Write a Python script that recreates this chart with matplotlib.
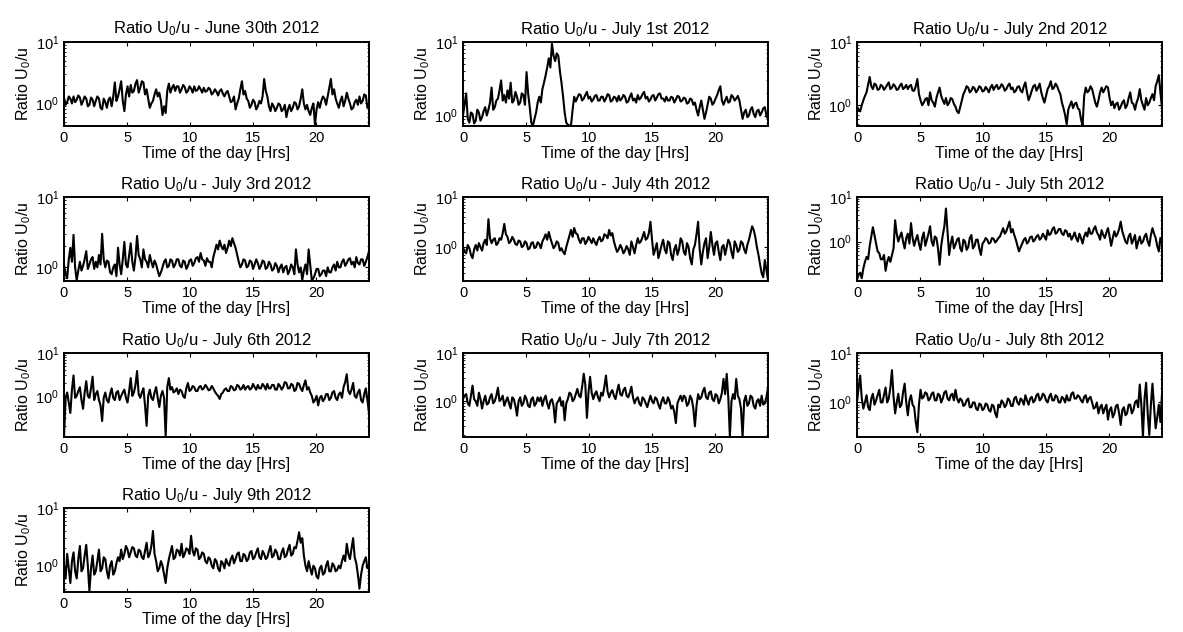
import numpy as np
import matplotlib
matplotlib.use("Agg")
import matplotlib.pyplot as plt

plt.rcParams['font.family'] = ['Liberation Sans', 'DejaVu Sans']
plt.rcParams['mathtext.fontset'] = 'custom'
plt.rcParams['mathtext.rm'] = 'Liberation Sans'
plt.rcParams['mathtext.it'] = 'Liberation Sans'

# U0/u ratio, one sample every 7.5 minutes over each day
days = ['June 30th 2012', 'July 1st 2012', 'July 2nd 2012', 'July 3rd 2012',
        'July 4th 2012', 'July 5th 2012', 'July 6th 2012', 'July 7th 2012',
        'July 8th 2012', 'July 9th 2012']

ratio_jun30 = [
    1.25, 0.95, 1.05, 1.3, 1.2, 1.0, 1.3, 1.05, 1.15, 1.35, 1.25, 0.95, 1.1, 1.3, 1.2, 0.9,
    0.95, 1.25, 1.15, 0.9, 1.1, 1.3, 1.2, 0.85, 0.8, 1.2, 1.05, 0.85, 1.15, 1.25, 0.9, 1.3,
    2.2, 1.1, 1.3, 1.7, 2.3, 1.1, 0.75, 1.4, 1.9, 1.3, 2.0, 1.5, 1.6, 2.1, 2.4, 1.5,
    1.8, 2.3, 2.2, 1.4, 1.7, 1.2, 0.85, 1.0, 1.1, 1.4, 1.7, 1.3, 1.5, 1.1, 0.65, 0.9,
    0.7, 1.6, 2.1, 1.5, 1.8, 2.0, 1.6, 1.9, 1.9, 1.5, 1.7, 2.0, 1.85, 1.5, 1.6, 1.9,
    1.75, 1.5, 1.9, 1.6, 1.65, 1.9, 1.7, 1.5, 1.8, 1.55, 1.6, 1.8, 1.7, 1.4, 1.5, 1.7,
    1.55, 1.35, 1.6, 1.7, 1.45, 1.3, 1.5, 1.6, 1.3, 1.05, 1.1, 1.3, 0.8, 1.0, 1.2, 1.7,
    2.3, 1.4, 1.6, 1.2, 1.1, 0.85, 0.95, 1.15, 1.05, 0.8, 0.9, 1.1, 1.0, 1.3, 2.5, 1.6,
    1.3, 0.9, 0.75, 1.0, 0.9, 0.75, 0.85, 1.0, 0.95, 0.75, 0.8, 0.95, 0.6, 0.8, 0.95, 0.75,
    0.85, 1.05, 1.0, 0.8, 0.9, 1.2, 1.7, 1.0, 0.8, 0.95, 0.75, 0.65, 0.85, 1.0, 0.45, 0.8,
    1.05, 0.85, 1.1, 1.3, 1.2, 0.95, 1.3, 1.8, 2.5, 1.4, 1.7, 1.2, 1.0, 0.85, 1.1, 1.3,
    0.9, 1.1, 1.5, 1.2, 1.0, 0.8, 0.85, 1.05, 1.15, 0.95, 1.3, 1.0, 1.1, 1.4, 1.35, 0.85,
    1.0]
ratio_jul01 = [
    1.0, 1.4, 2.0, 0.9, 0.8, 1.1, 1.05, 0.78, 0.85, 1.2, 1.1, 0.85, 0.95, 1.15, 1.3, 1.0,
    1.2, 1.5, 2.4, 1.2, 1.3, 1.6, 1.7, 2.2, 3.0, 1.6, 1.9, 1.5, 2.2, 1.7, 2.8, 1.5,
    1.6, 2.1, 1.8, 1.4, 1.5, 2.0, 1.9, 1.4, 3.9, 2.0, 1.3, 0.8, 0.72, 0.9, 1.1, 1.5,
    1.8, 1.5, 2.3, 2.8, 3.5, 4.5, 6.0, 4.5, 9.5, 6.5, 5.5, 7.0, 6.5, 4.0, 2.8, 1.8,
    1.1, 0.8, 0.75, 0.73, 0.74, 1.2, 1.8, 1.55, 1.75, 1.95, 1.9, 1.6, 1.7, 1.9, 2.1, 1.7,
    1.8, 1.55, 1.65, 1.85, 1.9, 1.6, 1.6, 1.8, 1.8, 1.55, 1.7, 1.95, 1.9, 1.55, 1.6, 1.8,
    1.75, 1.55, 1.85, 1.6, 1.7, 1.9, 1.8, 1.5, 1.55, 1.8, 2.0, 1.6, 1.7, 1.5, 1.9, 1.65,
    1.75, 1.95, 2.1, 1.7, 1.8, 1.55, 1.65, 1.85, 1.9, 1.6, 1.75, 1.95, 2.0, 1.7, 1.7, 1.55,
    1.8, 1.6, 1.6, 1.8, 1.75, 1.5, 1.65, 1.85, 1.8, 1.55, 1.6, 1.75, 1.7, 1.45, 1.5, 1.7,
    1.65, 1.4, 1.5, 1.2, 1.0, 1.3, 1.6, 1.2, 0.9, 1.1, 1.4, 1.8, 1.7, 1.4, 1.5, 1.7,
    1.9, 2.2, 2.5, 1.6, 1.4, 1.6, 1.8, 1.5, 1.55, 1.9, 1.8, 1.6, 1.7, 1.85, 1.6, 1.2,
    0.9, 1.1, 1.2, 0.95, 1.0, 1.2, 1.3, 1.05, 0.95, 1.15, 1.2, 1.0, 1.1, 1.25, 1.3, 1.0,
    0.9]
ratio_jul02 = [
    0.95, 0.85, 0.8, 1.0, 1.2, 1.4, 1.6, 2.1, 2.8, 2.0, 1.8, 2.2, 2.1, 1.75, 1.8, 2.1,
    2.0, 1.75, 1.9, 2.1, 2.3, 1.8, 1.9, 2.15, 2.0, 1.75, 1.8, 2.05, 2.2, 1.8, 1.9, 2.1,
    1.8, 2.0, 2.1, 1.7, 1.7, 2.0, 2.6, 1.5, 1.2, 1.0, 1.1, 1.25, 1.3, 1.0, 1.6, 1.2,
    1.1, 0.95, 1.3, 1.6, 1.9, 1.4, 1.2, 1.05, 1.3, 1.0, 1.1, 1.3, 1.25, 1.05, 0.95, 0.8,
    0.75, 0.95, 1.2, 1.5, 1.7, 2.0, 1.9, 1.6, 1.7, 1.95, 1.85, 1.6, 1.75, 2.0, 1.9, 1.65,
    1.7, 1.95, 1.8, 1.6, 1.9, 2.1, 1.75, 1.95, 2.1, 1.8, 1.9, 2.15, 2.0, 1.7, 1.8, 2.05,
    2.2, 1.8, 1.9, 1.6, 1.7, 1.95, 2.0, 1.7, 1.6, 2.0, 2.3, 1.6, 1.2, 1.4, 1.7, 2.0,
    2.1, 1.7, 1.9, 2.2, 1.6, 1.3, 1.1, 1.4, 1.8, 2.0, 2.4, 1.8, 1.9, 2.2, 2.0, 1.7,
    1.5, 1.1, 0.9, 0.7, 0.5, 0.85, 1.0, 1.15, 0.9, 1.05, 1.1, 0.9, 0.85, 0.6, 0.48, 1.4,
    1.9, 1.6, 1.7, 2.0, 1.8, 1.4, 1.1, 0.95, 1.2, 1.6, 1.9, 1.6, 1.8, 2.0, 1.9, 1.3,
    1.0, 1.15, 0.9, 1.05, 1.1, 0.85, 0.95, 1.1, 1.2, 0.9, 1.0, 1.3, 1.6, 1.1, 1.05, 0.85,
    1.1, 1.3, 1.8, 1.2, 1.0, 0.85, 1.3, 1.0, 1.1, 1.3, 1.5, 1.2, 2.0, 2.4, 3.0, 1.6,
    0.9]
ratio_jul03 = [
    1.1, 0.8, 0.7, 1.3, 1.9, 1.2, 2.9, 1.0, 0.65, 0.9, 1.2, 0.9, 1.05, 1.3, 1.7, 0.95,
    1.1, 1.3, 1.4, 0.95, 1.2, 1.0, 1.5, 1.1, 3.0, 1.3, 1.0, 1.25, 1.2, 0.85, 0.8, 1.0,
    1.1, 0.75, 1.9, 1.1, 0.8, 1.3, 2.3, 1.1, 1.0, 1.5, 2.2, 1.2, 0.9, 1.4, 2.8, 1.5,
    1.3, 1.0, 1.8, 1.3, 1.2, 1.0, 1.5, 1.2, 1.0, 1.25, 1.1, 0.9, 0.75, 0.85, 1.0, 1.2,
    1.3, 1.0, 1.05, 1.3, 1.25, 1.0, 1.1, 1.3, 1.3, 1.05, 1.0, 1.25, 1.2, 0.95, 1.05, 1.25,
    1.3, 1.05, 1.15, 1.35, 1.4, 1.2, 1.6, 1.3, 1.25, 1.05, 1.35, 1.2, 1.2, 1.0, 1.4, 1.7,
    2.1, 1.8, 2.4, 2.0, 1.8, 2.1, 1.6, 1.9, 2.4, 2.0, 2.6, 2.2, 1.9, 1.5, 1.2, 1.0,
    1.1, 1.3, 1.25, 1.0, 1.05, 1.25, 1.2, 0.95, 1.1, 1.3, 1.15, 0.95, 1.05, 1.25, 1.2, 0.95,
    1.0, 1.2, 1.1, 0.9, 0.95, 1.15, 1.05, 0.85, 1.0, 1.1, 0.85, 1.0, 1.05, 0.8, 0.9, 1.1,
    1.0, 0.8, 1.8, 1.1, 0.85, 1.0, 0.66, 0.9, 1.1, 0.8, 1.8, 1.1, 0.65, 0.7, 0.8, 0.95,
    0.95, 0.75, 0.8, 0.9, 0.9, 0.75, 1.0, 0.85, 0.85, 1.0, 1.1, 0.9, 1.2, 1.0, 1.0, 1.2,
    1.3, 1.05, 1.15, 1.3, 1.35, 1.1, 1.2, 1.0, 1.4, 1.15, 1.1, 1.3, 1.3, 1.05, 1.2, 1.4,
    1.7]
ratio_jul04 = [
    1.0, 0.8, 0.75, 1.1, 0.95, 0.7, 0.6, 0.9, 1.1, 0.85, 1.2, 1.0, 0.85, 1.2, 1.4, 1.1,
    3.6, 1.5, 1.2, 1.4, 1.5, 1.1, 1.2, 1.5, 1.4, 1.9, 2.9, 1.8, 1.6, 1.2, 1.3, 1.6,
    1.4, 1.15, 1.1, 1.35, 1.3, 1.0, 1.05, 1.3, 1.2, 0.9, 0.95, 1.2, 1.25, 0.95, 1.0, 1.25,
    1.15, 0.95, 1.3, 1.5, 1.8, 1.4, 2.0, 1.5, 1.2, 0.95, 1.05, 1.3, 1.2, 0.85, 0.95, 0.8,
    0.72, 1.0, 1.3, 1.7, 2.2, 1.6, 2.4, 1.9, 1.8, 1.4, 1.2, 1.5, 1.5, 1.15, 1.3, 1.6,
    1.4, 1.2, 1.5, 1.25, 1.1, 1.4, 1.6, 1.3, 1.4, 1.8, 1.7, 1.5, 2.2, 1.7, 1.9, 1.3,
    1.0, 0.8, 0.9, 1.1, 0.95, 0.75, 0.85, 1.05, 0.9, 0.7, 1.3, 1.0, 0.75, 1.1, 1.5, 1.2,
    1.3, 1.6, 2.0, 1.4, 1.5, 1.9, 3.2, 1.4, 0.7, 0.9, 1.2, 0.6, 0.8, 1.1, 1.4, 0.9,
    0.75, 1.3, 1.2, 0.7, 0.55, 0.9, 1.1, 0.7, 0.9, 1.5, 1.3, 0.8, 0.7, 1.2, 1.0, 0.6,
    0.45, 0.9, 1.1, 1.8, 3.2, 0.9, 0.45, 0.8, 1.2, 1.5, 0.6, 1.0, 2.0, 1.1, 0.7, 1.2,
    1.3, 0.8, 0.55, 1.0, 1.1, 0.7, 1.0, 1.4, 1.2, 0.8, 0.6, 1.3, 1.1, 0.8, 0.9, 1.3,
    1.2, 0.9, 0.75, 1.1, 1.4, 1.9, 2.6, 2.2, 1.6, 1.0, 0.7, 0.45, 0.3, 0.25, 0.55, 0.35,
    0.22]
ratio_jul05 = [
    0.14, 0.18, 0.2, 0.15, 0.25, 0.35, 0.45, 0.4, 0.8, 1.3, 2.1, 1.4, 0.9, 0.6, 0.55, 0.4,
    0.4, 0.5, 0.22, 0.35, 0.45, 0.35, 0.5, 0.7, 3.0, 1.5, 1.0, 1.3, 1.6, 1.0, 0.7, 1.2,
    1.5, 0.9, 2.6, 1.2, 0.8, 1.1, 1.4, 0.9, 0.65, 1.2, 1.6, 0.8, 1.1, 1.5, 2.2, 1.0,
    0.8, 1.3, 1.2, 0.7, 0.3, 0.8, 1.4, 2.2, 5.5, 1.6, 0.5, 0.9, 1.3, 0.7, 0.85, 1.1,
    1.2, 0.7, 0.6, 1.1, 1.0, 0.65, 0.75, 1.2, 1.4, 0.7, 0.8, 1.1, 1.1, 0.7, 0.5, 0.9,
    1.0, 1.2, 1.1, 0.9, 0.95, 1.2, 1.15, 0.95, 1.05, 1.2, 1.3, 1.6, 2.0, 1.5, 1.7, 2.2,
    2.8, 1.6, 1.9, 1.4, 1.1, 0.8, 0.6, 0.75, 0.9, 1.1, 1.2, 0.9, 1.0, 1.25, 1.3, 1.0,
    1.1, 1.3, 1.4, 1.1, 1.2, 1.5, 1.3, 1.1, 1.8, 1.4, 1.5, 1.9, 2.1, 1.5, 1.6, 1.9,
    1.9, 1.5, 1.4, 1.8, 1.7, 1.3, 1.5, 1.1, 1.3, 1.6, 1.2, 1.0, 1.5, 1.2, 0.9, 1.3,
    1.6, 1.3, 2.0, 1.5, 1.5, 1.9, 2.2, 1.6, 1.4, 1.1, 1.8, 1.4, 1.2, 1.6, 2.0, 1.3,
    0.8, 1.2, 1.7, 1.3, 1.5, 1.9, 2.8, 1.7, 1.3, 1.0, 0.9, 1.3, 1.5, 0.9, 1.1, 1.4,
    0.7, 1.0, 1.3, 0.9, 1.0, 1.3, 1.5, 1.0, 0.8, 1.4, 2.0, 1.5, 1.2, 0.8, 0.6, 1.2,
    1.1]
ratio_jul06 = [
    0.11, 0.9, 1.2, 0.7, 0.4, 1.4, 3.0, 0.9, 1.0, 1.3, 1.6, 0.8, 0.5, 1.2, 2.2, 1.0,
    0.9, 1.5, 2.8, 0.8, 1.1, 1.3, 0.8, 0.6, 0.26, 0.9, 1.2, 0.8, 0.7, 1.1, 1.5, 0.9,
    0.8, 1.2, 1.3, 0.8, 1.0, 1.2, 1.4, 0.9, 0.7, 1.3, 2.6, 1.0, 1.2, 1.8, 3.8, 1.1,
    0.9, 1.2, 1.5, 0.6, 0.2, 1.0, 1.4, 0.9, 0.8, 1.2, 1.6, 0.9, 0.55, 1.0, 1.3, 0.9,
    0.11, 1.6, 2.6, 1.4, 1.6, 1.2, 1.3, 1.5, 1.1, 1.4, 1.3, 1.0, 0.9, 1.5, 2.0, 1.3,
    1.4, 1.7, 1.6, 1.3, 1.3, 1.6, 1.7, 1.4, 1.5, 1.8, 1.6, 1.35, 1.4, 1.7, 1.5, 1.25,
    1.1, 1.0, 0.85, 1.1, 1.2, 1.4, 1.5, 1.3, 1.3, 1.7, 1.6, 1.35, 1.4, 1.8, 1.7, 1.4,
    1.5, 1.8, 1.4, 1.6, 1.7, 1.4, 1.5, 1.9, 1.6, 1.4, 1.8, 1.5, 1.5, 1.9, 1.7, 1.4,
    1.9, 1.5, 1.5, 1.8, 1.8, 1.4, 1.4, 1.9, 1.7, 1.4, 1.6, 2.1, 2.0, 1.5, 1.5, 1.9,
    1.8, 1.3, 1.4, 2.0, 1.9, 1.5, 1.3, 1.8, 2.3, 1.4, 1.6, 1.2, 1.0, 0.7, 0.8, 1.0,
    0.6, 0.9, 1.0, 0.75, 0.85, 1.1, 1.1, 0.8, 0.9, 1.2, 1.3, 0.9, 0.8, 1.1, 1.2, 0.9,
    1.6, 2.1, 3.2, 1.3, 1.1, 1.4, 2.0, 1.0, 0.9, 1.2, 1.4, 0.8, 0.7, 1.1, 1.5, 0.8,
    0.4]
ratio_jul07 = [
    1.1, 1.3, 1.4, 0.9, 0.8, 1.3, 2.1, 1.1, 1.0, 0.8, 1.5, 1.1, 0.7, 1.0, 1.3, 0.85,
    0.9, 1.2, 1.4, 0.9, 1.0, 1.3, 1.9, 1.0, 1.1, 1.3, 0.8, 1.0, 1.2, 0.9, 0.7, 1.2,
    1.1, 0.8, 0.5, 1.0, 1.2, 0.8, 0.9, 1.3, 1.1, 0.8, 0.75, 1.1, 1.2, 0.8, 0.9, 1.2,
    1.0, 1.2, 0.8, 1.1, 1.3, 0.9, 0.7, 1.0, 1.1, 0.8, 0.36, 0.9, 1.0, 1.2, 0.8, 1.0,
    0.4, 0.9, 1.1, 1.5, 1.4, 1.0, 1.1, 1.4, 1.8, 1.3, 1.2, 2.0, 3.7, 2.2, 0.45, 1.5,
    3.2, 1.5, 1.1, 1.4, 1.6, 1.2, 1.0, 1.5, 1.3, 2.0, 3.4, 1.6, 1.2, 1.5, 1.7, 1.3,
    1.1, 1.6, 2.2, 1.4, 1.3, 1.7, 1.9, 1.3, 1.2, 1.5, 2.0, 1.2, 0.9, 1.1, 1.2, 0.9,
    0.8, 1.2, 1.1, 0.9, 0.75, 1.0, 1.3, 1.0, 0.9, 1.2, 1.1, 0.85, 0.7, 1.0, 1.2, 0.9,
    0.9, 1.2, 1.0, 0.7, 0.8, 0.6, 0.35, 0.9, 1.1, 1.3, 1.0, 1.3, 1.2, 0.8, 0.9, 1.3,
    1.1, 0.7, 0.3, 0.8, 1.4, 1.1, 1.2, 1.6, 1.9, 1.2, 1.1, 1.5, 1.6, 1.1, 1.0, 1.4,
    1.3, 0.9, 1.1, 1.5, 2.9, 1.4, 3.7, 1.2, 0.18, 1.0, 1.4, 1.1, 2.9, 1.3, 1.1, 0.7,
    0.18, 1.0, 1.3, 0.8, 0.9, 1.3, 1.2, 0.8, 0.7, 1.0, 1.1, 0.8, 1.3, 0.85, 0.9, 1.2,
    1.9]
ratio_jul08 = [
    1.0, 2.0, 3.5, 1.2, 0.75, 1.0, 1.4, 0.8, 0.7, 1.2, 1.5, 0.9, 1.1, 1.4, 1.8, 1.0,
    1.0, 1.4, 2.0, 1.0, 1.2, 2.0, 4.5, 1.3, 0.6, 1.0, 1.5, 0.8, 0.9, 1.6, 2.4, 1.0,
    0.55, 1.1, 1.4, 0.9, 0.8, 0.4, 0.25, 0.9, 1.8, 1.2, 1.3, 1.6, 1.5, 1.1, 1.2, 1.5,
    1.6, 1.1, 1.1, 1.5, 1.4, 1.0, 1.2, 1.6, 1.7, 1.2, 1.1, 1.4, 1.5, 1.1, 1.8, 1.2,
    1.0, 1.2, 1.1, 0.85, 0.9, 1.1, 1.2, 0.8, 0.8, 1.0, 1.0, 0.75, 0.7, 0.95, 0.9, 0.7,
    0.75, 0.95, 0.9, 0.7, 0.65, 0.9, 0.85, 0.6, 0.5, 0.9, 0.8, 1.1, 1.0, 0.8, 0.9, 1.2,
    1.1, 0.85, 0.85, 1.2, 1.3, 1.0, 0.9, 1.2, 1.1, 0.9, 1.4, 1.1, 0.9, 1.2, 1.3, 1.0,
    1.1, 1.4, 1.5, 1.1, 1.2, 1.5, 1.4, 1.1, 1.0, 1.3, 1.5, 1.1, 1.1, 1.4, 1.3, 1.0,
    1.0, 1.3, 1.2, 1.0, 1.4, 1.1, 1.1, 1.5, 1.6, 1.2, 1.2, 1.4, 1.3, 1.1, 1.0, 1.3,
    1.4, 1.0, 1.2, 1.3, 1.0, 0.75, 0.8, 1.0, 0.6, 0.8, 0.9, 0.6, 0.75, 0.9, 0.45, 0.7,
    0.8, 0.5, 0.6, 0.85, 0.9, 0.6, 0.35, 0.7, 0.8, 0.55, 0.6, 0.9, 0.9, 0.6, 0.7, 1.0,
    1.1, 0.8, 2.3, 0.9, 0.2, 1.2, 2.5, 0.6, 0.22, 0.9, 2.4, 0.8, 0.3, 0.5, 0.9, 0.4,
    1.5]
ratio_jul09 = [
    1.0, 0.6, 1.6, 0.9, 0.5, 1.2, 1.7, 0.8, 0.6, 1.3, 2.2, 0.8, 0.9, 1.5, 2.3, 1.0,
    0.36, 0.9, 1.5, 0.7, 0.8, 1.2, 1.9, 0.8, 0.9, 1.4, 1.3, 0.8, 0.6, 1.0, 1.2, 0.7,
    0.8, 1.1, 1.4, 1.2, 1.9, 1.3, 1.6, 2.2, 1.9, 1.4, 1.7, 2.1, 2.0, 1.5, 1.4, 1.9,
    1.8, 1.4, 1.3, 1.8, 2.5, 1.4, 1.6, 2.2, 4.0, 1.6, 1.2, 0.8, 0.9, 1.2, 1.0, 0.7,
    0.5, 0.9, 1.3, 1.7, 2.2, 1.3, 1.4, 1.9, 1.8, 1.5, 2.4, 1.4, 1.6, 2.0, 1.9, 1.6,
    3.3, 1.8, 1.5, 2.0, 1.9, 1.3, 1.4, 1.7, 1.6, 1.2, 1.1, 1.4, 1.3, 1.0, 0.9, 1.3,
    1.2, 0.9, 0.8, 1.2, 1.1, 0.9, 1.3, 1.1, 1.0, 1.3, 1.5, 1.1, 1.3, 1.6, 1.7, 1.2,
    1.2, 1.6, 1.5, 1.2, 1.3, 1.7, 1.8, 1.3, 1.4, 1.7, 2.0, 1.4, 1.3, 1.8, 1.6, 1.3,
    1.4, 1.8, 2.2, 1.4, 1.5, 1.9, 1.7, 1.3, 1.3, 1.7, 2.0, 1.4, 1.5, 1.9, 2.3, 1.5,
    1.6, 2.1, 2.0, 2.7, 3.8, 2.5, 3.0, 1.5, 1.0, 0.8, 1.2, 0.9, 0.7, 1.0, 0.9, 0.65,
    0.6, 0.9, 1.0, 0.7, 0.75, 1.0, 1.2, 0.8, 0.8, 1.1, 1.0, 0.8, 0.85, 1.0, 0.9, 1.2,
    1.5, 1.2, 2.4, 1.6, 1.3, 2.0, 3.0, 1.4, 1.1, 0.7, 0.4, 0.7, 1.0, 1.2, 1.4, 0.9,
    1.0]

series = [ratio_jun30, ratio_jul01, ratio_jul02, ratio_jul03, ratio_jul04,
          ratio_jul05, ratio_jul06, ratio_jul07, ratio_jul08, ratio_jul09]

# lower y limit of each log axis (upper is always 10)
y_bottom = [0.43, 0.72, 0.47, 0.64, 0.21, 0.13, 0.11, 0.18, 0.2, 0.35]

fig = plt.figure(figsize=(11.83, 6.32), dpi=100)

W, H = 1183.0, 632.0
col_left = [64, 463, 857]
row_top = [42, 197, 353, 508]
ax_w, ax_h = 305, 84

for k, (day, vals) in enumerate(zip(days, series)):
    r, c = divmod(k, 3)
    ax = fig.add_axes([col_left[c] / W, 1 - (row_top[r] + ax_h) / H, ax_w / W, ax_h / H])
    hours = np.linspace(0, 24.2, len(vals))
    ax.semilogy(hours, vals, color='black', linewidth=1.5)
    ax.set_xlim(0, 24.2)
    ax.set_ylim(y_bottom[k], 10)
    ax.set_xticks([0, 5, 10, 15, 20])
    ax.set_yticks([1, 10])
    ax.tick_params(which='both', direction='in', top=True, right=True, labelsize=10.5)
    ax.tick_params(which='major', length=3)
    ax.tick_params(which='minor', length=1.5)
    for sp in ax.spines.values():
        sp.set_linewidth(1.4)
    ax.set_title('Ratio U$_0$/u - ' + day, fontsize=12, pad=6)
    ax.set_xlabel('Time of the day [Hrs]', fontsize=11.5, labelpad=1)
    ax.set_ylabel('Ratio U$_0$/u', fontsize=11.5, labelpad=2)

fig.savefig('out.png', dpi=100)
